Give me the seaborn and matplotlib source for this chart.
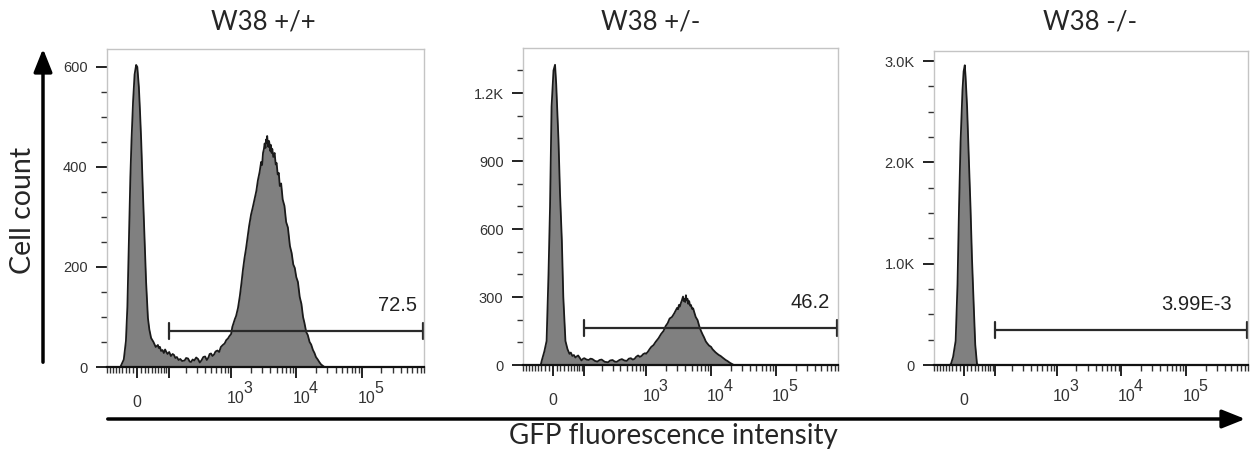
import matplotlib
matplotlib.use("Agg")
import matplotlib.pyplot as plt
from matplotlib.patches import FancyArrowPatch
import seaborn as sns

# Panel titles and gate annotations
titles = ["W38 +/+", "W38 +/-", "W38 -/-"]
gate_labels = ["72.5", "46.2", "3.99E-3"]
gate_start = 100
gate_y = [72, 164, 347]

# y axes
ymax = [636, 1399, 3100]
ytick_vals = [[0, 200, 400, 600], [0, 300, 600, 900, 1200], [0, 1000, 2000, 3000]]
ytick_labels = [["0", "200", "400", "600"],
                ["0", "300", "600", "900", "1.2K"],
                ["0", "1.0K", "2.0K", "3.0K"]]
ytick_minor_step = [50, 100, 250]

# x axis (biexponential-like)
xtick_vals = [0, 100, 1000, 10000, 100000]
xtick_labels = ["0", "", "", "", ""]
decade_vals = [1000, 10000, 100000]
decade_exps = ["3", "4", "5"]

# histogram outlines (fluorescence value, cell count)
wt_x = [-45, -35, -29, -25, -21, -17, -14, -10, -6, -2, 1, 5, 8, 11, 15, 20, 24, 29, 33, 38,
        45, 52, 59, 62, 66, 70, 75, 80, 85, 90, 95, 102, 110, 118, 125, 132, 140, 150, 160,
        172, 189, 200, 215, 228, 240, 255, 270, 290, 310, 330, 350, 375, 400, 425, 450, 470,
        494, 520, 550, 580, 620, 660, 700, 750, 800, 850, 900, 950, 1007, 1050, 1100, 1150,
        1200, 1283, 1370, 1450, 1530, 1615, 1700, 1800, 1900, 2035, 2150, 2300, 2450, 2585,
        2750, 2900, 3000, 3100, 3200, 3285, 3380, 3450, 3520, 3590, 3680, 3750, 3830, 3900,
        4000, 4100, 4200, 4300, 4450, 4660, 4850, 5000, 5200, 5400, 5600, 5870, 6200, 6600,
        7000, 7450, 8000, 8500, 9000, 9500, 10000, 10600, 11300, 12000, 12700, 13350, 14200,
        15000, 16000, 16900, 18000, 19000, 20000, 21300, 22500, 24000, 27000]
wt_count = [0, 15, 52, 120, 253, 380, 453, 530, 585, 604, 600, 560, 510, 453, 360, 253, 170,
            98, 75, 58, 50, 40, 44, 38, 40, 32, 34, 28, 35, 30, 26, 30, 22, 26, 24, 18, 20, 14,
            16, 12, 13, 18, 17, 11, 10, 15, 13, 19, 16, 9, 13, 20, 21, 14, 19, 26, 27, 22, 25,
            31, 33, 30, 40, 44, 47, 54, 57, 62, 66, 80, 88, 96, 102, 118, 142, 168, 195, 218,
            236, 260, 282, 305, 318, 336, 352, 373, 390, 410, 404, 428, 436, 447, 438, 455,
            448, 462, 445, 440, 452, 446, 432, 444, 428, 436, 420, 428, 405, 408, 385, 388,
            362, 367, 335, 322, 290, 279, 242, 228, 205, 198, 180, 170, 140, 126, 100, 88, 70,
            64, 50, 45, 34, 28, 20, 15, 10, 5, 0]

het_x = [-32, -29, -22, -16, -11, -7, -3, 2, 6, 9, 15, 19, 24, 28, 34, 40, 46, 50, 55, 60,
         65, 70, 75, 82, 88, 95, 100, 110, 120, 130, 140, 155, 170, 185, 200, 225, 254, 275,
         300, 325, 350, 385, 420, 460, 500, 540, 580, 620, 661, 700, 750, 800, 850, 900, 960,
         1000, 1060, 1130, 1200, 1300, 1400, 1550, 1700, 1850, 2000, 2150, 2300, 2500, 2710,
         2850, 3000, 3100, 3200, 3300, 3420, 3550, 3700, 3800, 3900, 4000, 4100, 4200, 4340,
         4450, 4600, 4750, 4900, 5100, 5300, 5470, 5800, 6200, 6600, 6960, 7400, 7800, 8300,
         8760, 9300, 10000, 10500, 11000, 11700, 12400, 13200, 14000, 15000, 15800, 16800,
         17800, 19000, 20000, 22400]
het_count = [0, 20, 60, 106, 400, 697, 1140, 1300, 1325, 1240, 992, 760, 549, 300, 106, 70,
             49, 55, 40, 44, 33, 38, 42, 30, 20, 28, 30, 24, 22, 28, 26, 18, 15, 22, 24, 14,
             12, 20, 22, 15, 14, 22, 26, 20, 18, 28, 30, 24, 27, 36, 42, 36, 40, 48, 52, 50,
             58, 70, 80, 88, 102, 118, 137, 150, 172, 185, 205, 212, 228, 240, 252, 246, 265,
             258, 272, 285, 302, 282, 290, 278, 308, 286, 292, 270, 282, 262, 265, 248, 250,
             236, 212, 198, 170, 152, 135, 122, 104, 95, 86, 80, 70, 64, 56, 50, 44, 40, 33,
             28, 22, 18, 12, 8, 0]

ko_x = [-38, -34, -28, -21, -16, -12, -8, -3, 0, 3, 5, 9, 13, 18, 22, 27, 31, 36, 40]
ko_count = [0, 10, 80, 238, 800, 1557, 2200, 2713, 2900, 2960, 2850, 2547, 2100, 1557,
            1050, 567, 200, 10, 0]

hist_x = [wt_x, het_x, ko_x]
hist_count = [wt_count, het_count, ko_count]

# layout (figure fractions / pixels)
axes_rects = [[0.0856, 0.1934, 0.2536, 0.699],
              [0.4184, 0.1978, 0.2520, 0.6967],
              [0.7472, 0.1978, 0.2512, 0.6900]]
title_x = [263, 651, 1090]
gate_label_pad = [7, 8, 16]

sns.set_style("white")
plt.rcParams['font.family'] = ['Liberation Sans', 'DejaVu Sans']

fig = plt.figure(figsize=(12.5, 4.55), dpi=100)

minor_x = ([-90, -80, -70, -60, -50, -40, -30, -20, -10, 10, 20, 30, 40, 50, 60, 70, 80, 90]
           + [m * 10 ** e for e in (2, 3, 4, 5) for m in range(2, 10)])

for i in range(3):
    ax = fig.add_axes(axes_rects[i])
    ax.set_xscale('asinh', linear_width=73)
    ax.fill_between(hist_x[i], hist_count[i], 0, color='#808080', lw=0)
    sns.lineplot(x=hist_x[i], y=hist_count[i], ax=ax, color='#1a1a1a', linewidth=1.3)
    ax.set_xlim(-92, 8.6e5)
    ax.set_ylim(0, ymax[i])

    # gate
    ax.plot([gate_start, 8.6e5], [gate_y[i], gate_y[i]], color='#2a2a2a', lw=1.6,
            clip_on=False)
    for gx in (gate_start, 8.6e5):
        ax.plot([gx, gx], [gate_y[i] - ymax[i] * 0.025, gate_y[i] + ymax[i] * 0.025],
                color='#2a2a2a', lw=1.6, clip_on=False)
    ax.annotate(gate_labels[i], xy=(1, gate_y[i]), xycoords=ax.get_yaxis_transform(),
                xytext=(-gate_label_pad[i], 20), textcoords='offset pixels',
                ha='right', va='baseline', fontsize=14.5, color='#222222')

    # ticks
    ax.set_xticks(xtick_vals)
    ax.set_xticklabels(xtick_labels)
    ax.set_xticks(minor_x, minor=True)
    ax.set_yticks(ytick_vals[i])
    ax.set_yticklabels(ytick_labels[i])
    ax.set_yticks(list(range(0, ymax[i], ytick_minor_step[i])), minor=True)
    ax.tick_params(axis='both', which='major', direction='out', length=8, width=1.4,
                   color='#222222', labelsize=10.5, labelcolor='#333333')
    ax.tick_params(axis='both', which='minor', direction='out', length=4, width=1.0,
                   color='#333333')
    ax.tick_params(axis='x', which='major', pad=12, labelsize=11.5)
    ax.tick_params(axis='y', which='major', pad=6)
    ax.tick_params(axis='both', bottom=True, left=True, which='both')
    ax.set_xlabel('')
    ax.set_ylabel('')

    # decade labels: "10" with a large raised exponent
    for v, e in zip(decade_vals, decade_exps):
        ax.annotate("10", xy=(v, 0), xycoords=ax.get_xaxis_transform(),
                    xytext=(5, -36), textcoords='offset pixels', ha='center',
                    va='baseline', fontsize=11.5, color='#333333')
        ax.annotate(e, xy=(v, 0), xycoords=ax.get_xaxis_transform(),
                    xytext=(17, -26), textcoords='offset pixels', ha='center',
                    va='baseline', fontsize=11.5, color='#333333')

    for side in ('top', 'right', 'left'):
        ax.spines[side].set_color('#c4c4c4')
        ax.spines[side].set_linewidth(1.0)
    ax.spines['bottom'].set_color('#111111')
    ax.spines['bottom'].set_linewidth(1.6)

    fig.text(title_x[i] / 1250, 1 - 22 / 455, titles[i], ha='center', va='center',
             fontsize=18.5, family=['Lato', 'DejaVu Sans'])

# axis captions with arrows
fig.text(23 / 1250, 1 - 210 / 455, 'Cell count', rotation=90, ha='center', va='center',
         fontsize=20.5, family=['Lato', 'DejaVu Sans'])
fig.text(673 / 1250, 1 - 436 / 455, 'GFP fluorescence intensity', ha='center', va='center',
         fontsize=20, family=['Lato', 'DejaVu Sans'])

arrow_style = '-|>,head_length=0.7,head_width=0.28'
fig.add_artist(FancyArrowPatch((43 / 1250, 1 - 365 / 455), (43 / 1250, 1 - 46 / 455),
                               transform=fig.transFigure, arrowstyle=arrow_style,
                               mutation_scale=20, lw=2.5, color='black'))
fig.add_artist(FancyArrowPatch((105 / 1250, 1 - 419 / 455), (1248 / 1250, 1 - 419 / 455),
                               transform=fig.transFigure, arrowstyle=arrow_style,
                               mutation_scale=20, lw=2.5, color='black'))

fig.savefig('out.png', dpi=100)
